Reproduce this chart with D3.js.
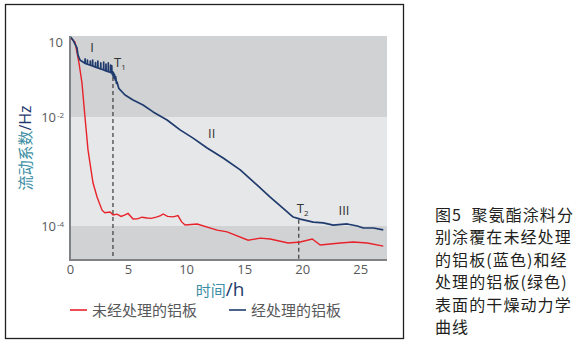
<!DOCTYPE html>
<html><head><meta charset="utf-8">
<script src="https://cdn.jsdelivr.net/npm/d3@7"></script>
<style>
html,body{margin:0;padding:0;background:#fff;}
svg{display:block;font-family:"Noto Sans","Noto Sans CJK SC",sans-serif;}
text.cap{white-space:pre;}
</style></head>
<body>
<svg id="chart" width="576" height="346"></svg>
<script>
// ---- data ----
const xTicks = [0, 5, 10, 15, 20, 25];
const yTicks = [{v: 10, base: "10", exp: ""}, {v: 1e-2, base: "10", exp: "-2"}, {v: 1e-4, base: "10", exp: "-4"}];
const untreatedT = [0,0.43,0.78,1.03,1.29,1.55,1.81,1.98,2.33,2.76,3.0,3.45,3.71,4.05,4.4,4.74,5.0,5.43,5.8,6.2,6.64,7.0,7.5,7.8,8.02,8.4,8.88,9.3,9.6,9.91,10.95,12.67,13.53,15.34,16.38,17.24,18.79,19.83,20.86,21.55,23.28,24.4,25.6,26.98];
const untreatedV = [15,10,1.4,0.23,0.01,2.5e-3,1.07e-3,6.2e-4,3.4e-4,1.95e-4,1.75e-4,1.8e-4,1.6e-4,1.65e-4,1.5e-4,1.6e-4,1.7e-4,1.34e-4,1.35e-4,1.45e-4,1.4e-4,1.38e-4,1.47e-4,1.55e-4,1.66e-4,1.5e-4,1.47e-4,1.55e-4,1.2e-4,1.04e-4,1.09e-4,8.4e-5,7.8e-5,5.5e-5,6.0e-5,5.8e-5,4.9e-5,5.1e-5,5.8e-5,4.5e-5,4.9e-5,5.1e-5,4.9e-5,4.3e-5];
const treatedT = [0,0.26,0.6,0.69,0.86,1.12,
  1.29,1.30,1.31, 1.49,1.50,1.51, 1.74,1.75,1.76, 1.94,1.95,1.96, 2.19,2.20,2.21, 2.39,2.40,2.41,
  2.64,2.65,2.66, 2.89,2.90,2.91, 3.09,3.10,3.11, 3.29,3.30,3.31, 3.49,3.50,3.51, 3.59,3.60,3.61,
  3.65,3.68,3.72,3.75,3.80,3.84,3.90,3.94,4.00,4.05,4.20,
  4.74,5.43,6.29,7.16,8.36,9.48,10.6,11.81,13.19,14.66,16.12,17.24,18.36,19.22,19.83,20.95,21.81,22.67,23.88,24.74,25.26,26.12,26.98];
const treatedV = [17,12,5.8,3.0,1.9,1.58,
  1.39,2.1,1.39, 1.29,1.9,1.29, 1.18,1.74,1.18, 1.09,1.9,1.09, 0.99,1.51,0.99, 0.92,1.74,0.92,
  0.83,1.45,0.83, 0.76,1.58,0.76, 0.70,1.32,0.70, 0.65,1.45,0.65, 0.60,1.2,0.60, 0.59,1.1,0.59,
  0.5,0.66,0.42,0.58,0.36,0.5,0.3,0.4,0.22,0.25,0.14,
  0.076,0.048,0.030,0.016,8.8e-3,5.8e-3,4.1e-3,2.7e-3,1.77e-3,1.07e-3,5.6e-4,3.4e-4,2.1e-4,1.46e-4,1.34e-4,1.18e-4,1.14e-4,1.04e-4,1.09e-4,1.0e-4,9.2e-5,9.2e-5,8.5e-5];
const bands = [{from: 17.4, to: 1e-2, color: "#d1d2d4"}, {from: 1e-2, to: 1e-4, color: "#e6e7e8"}, {from: 1e-4, to: 2.4e-5, color: "#d1d2d4"}];
const markers = [{t: 3.7, label: "T", sub: "1", from: 0.4}, {t: 19.7, label: "T", sub: "2", from: 1.3e-4}];
const phases = [{t: 1.9, v: 4, text: "I"}, {t: 12.2, v: 4.2e-3, text: "II"}, {t: 23.6, v: 1.6e-4, text: "III"}];
const legendItems = [{name: "未经处理的铝板", color: "#e8222b"}, {name: "经处理的铝板", color: "#1f3b6d"}];
const caption = ["图5  聚氨酯涂料分", "别涂覆在未经处理", "的铝板(蓝色)和经", "处理的铝板(绿色)", "表面的干燥动力学", "曲线"];

// ---- layout ----
const svg = d3.select("#chart");
const L = 70, R = 387, T = 36, B = 260;
const x = d3.scaleLinear().domain([0, 27.3]).range([L, R]);
const y = d3.scaleLog().domain([17.4, 10, 1e-2, 1e-4, 2.4e-5]).range([T, 42, 117, 226, B]);

// frame
svg.append("rect").attr("x", 5.5).attr("y", 4.5).attr("width", 398).attr("height", 334)
  .attr("fill", "none").attr("stroke", "#231f20").attr("stroke-width", 1.3);

// bands
svg.selectAll("rect.band").data(bands).join("rect").attr("class", "band")
  .attr("x", L).attr("width", R - L)
  .attr("y", d => y(d.from)).attr("height", d => y(d.to) - y(d.from))
  .attr("fill", d => d.color);

// dashed markers
svg.selectAll("line.mk").data(markers).join("line").attr("class", "mk")
  .attr("x1", d => x(d.t)).attr("x2", d => x(d.t))
  .attr("y1", d => y(d.from)).attr("y2", B)
  .attr("stroke", "#3a3a3a").attr("stroke-width", 1.2).attr("stroke-dasharray", "4,3");

// lines
const line = d3.line().x(d => x(d[0])).y(d => y(d[1]));
const red = untreatedT.map((t, i) => [t, untreatedV[i]]);
const navy = treatedT.map((t, i) => [t, treatedV[i]]);
svg.append("path").datum(red).attr("d", line).attr("fill", "none")
  .attr("stroke", legendItems[0].color).attr("stroke-width", 1.4);
svg.append("path").datum(navy).attr("d", line).attr("fill", "none")
  .attr("stroke", legendItems[1].color).attr("stroke-width", 1.7).attr("stroke-linejoin", "round");

// axes lines
svg.append("line").attr("x1", L).attr("x2", L).attr("y1", T).attr("y2", B + 1)
  .attr("stroke", "#808285").attr("stroke-width", 2);
svg.append("line").attr("x1", L).attr("x2", R).attr("y1", B).attr("y2", B)
  .attr("stroke", "#808285").attr("stroke-width", 2);

// x axis labels via d3 axis
const xAxis = svg.append("g").attr("transform", `translate(0,${B})`)
  .call(d3.axisBottom(x).tickValues(xTicks).tickSize(0).tickPadding(5).tickFormat(d3.format("d")));
xAxis.select(".domain").remove();
xAxis.selectAll("text").attr("fill", "#58595b").attr("font-size", 13)
  .attr("font-family", "'Open Sans','Noto Sans',sans-serif");

// y axis labels
const yAxis = svg.append("g").attr("transform", `translate(${L},0)`)
  .call(d3.axisLeft(y).tickValues(yTicks.map(d => d.v)).tickSize(0).tickFormat(() => ""));
yAxis.select(".domain").remove();
yAxis.selectAll(".tick").each(function(d, i) {
  const g = d3.select(this);
  g.select("text").remove();
  const info = yTicks[i];
  g.append("text").attr("x", info.exp ? -14 : -7).attr("dy", "0.35em")
    .attr("text-anchor", "end").attr("fill", "#58595b").attr("font-size", 13)
    .attr("font-family", "'Open Sans','Noto Sans',sans-serif").text(info.base);
  if (info.exp) {
    g.append("text").attr("x", -13).attr("dy", "0.05em").attr("text-anchor", "start").attr("fill", "#58595b")
      .attr("font-size", 8).attr("font-family", "'Open Sans','Noto Sans',sans-serif").text(info.exp);
  }
});

// axis titles
const yt = svg.append("text").attr("transform", `translate(31,${(T + B) / 2}) rotate(-90)`)
  .attr("text-anchor", "middle");
yt.append("tspan").attr("fill", "#3b8ea3").attr("font-size", 15).attr("font-family", "'Noto Sans CJK SC',sans-serif").text("流动系数");
yt.append("tspan").attr("fill", "#1f3b6d").attr("font-size", 16).attr("font-family", "'Open Sans',sans-serif").text("/Hz");

const xt = svg.append("text").attr("x", 220).attr("y", 296).attr("text-anchor", "middle");
xt.append("tspan").attr("fill", "#3b8ea3").attr("font-size", 15).attr("font-family", "'Noto Sans CJK SC',sans-serif").text("时间");
xt.append("tspan").attr("fill", "#1f3b6d").attr("font-size", 19).attr("font-family", "'Open Sans',sans-serif").text("/h");

// phase labels
svg.selectAll("text.ph").data(phases).join("text").attr("class", "ph")
  .attr("x", d => x(d.t)).attr("y", d => y(d.v)).attr("text-anchor", "middle")
  .attr("fill", "#333").attr("font-size", 13).attr("font-family", "'Liberation Sans Narrow','Open Sans',sans-serif")
  .text(d => d.text);

// marker labels
markers.forEach((m, i) => {
  const px = x(m.t) + (i === 0 ? 1 : -2);
  const py = i === 0 ? 67 : 213;
  const tx = svg.append("text").attr("x", px).attr("y", py).attr("fill", "#333")
    .attr("font-family", "'Open Sans',sans-serif").attr("font-size", 13);
  tx.append("tspan").text(m.label);
  tx.append("tspan").attr("font-size", 8).attr("dy", 3).text(m.sub);
});

// legend
const lg = svg.selectAll("g.lg").data(legendItems).join("g").attr("class", "lg")
  .attr("transform", (d, i) => `translate(${i === 0 ? 70 : 229},310)`);
lg.append("line").attr("x1", 0).attr("x2", 17).attr("y1", 0).attr("y2", 0)
  .attr("stroke", d => d.color).attr("stroke-width", 1.6);
lg.append("text").attr("x", 22).attr("y", 5.5).attr("fill", "#58595b").attr("font-size", 15)
  .attr("font-family", "'Noto Sans CJK SC',sans-serif").text(d => d.name);

// caption
svg.selectAll("text.cap").data(caption).join("text").attr("class", "cap")
  .attr("x", 435).attr("y", (d, i) => 221 + i * 22.4)
  .attr("fill", "#231f20").attr("font-size", 16).attr("letter-spacing", 1.1)
  .attr("font-family", "'Noto Sans CJK SC',sans-serif").text(d => d);
</script>
</body></html>
